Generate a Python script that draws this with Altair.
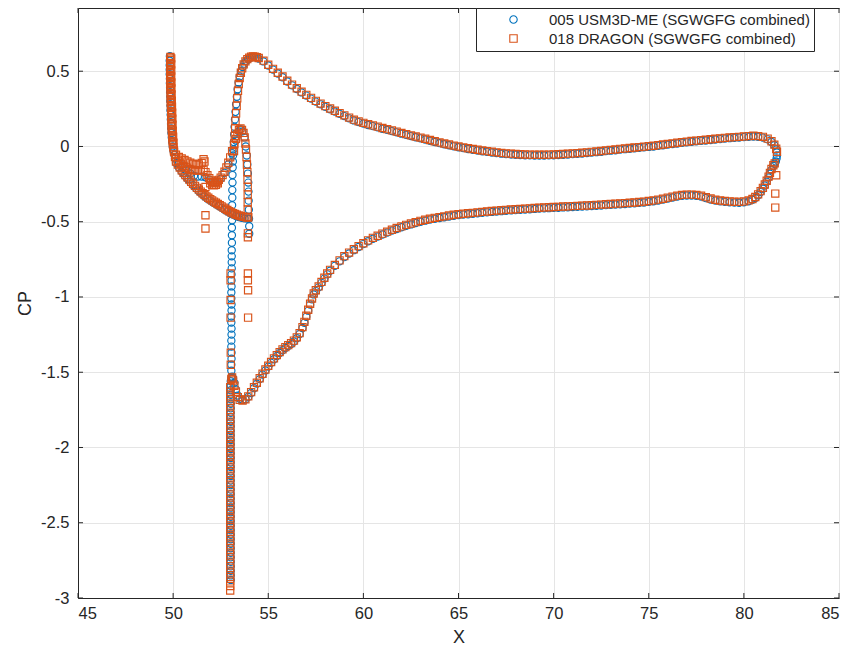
import altair as alt
import pandas as pd

S1 = "005 USM3D-ME (SGWGFG combined)"
S2 = "018 DRAGON (SGWGFG combined)"

X_TICKS = [45, 50, 55, 60, 65, 70, 75, 80, 85]
Y_TICKS = [-3, -2.5, -2, -1.5, -1, -0.5, 0, 0.5]

# ---- main element, upper surface (shared x grid) ----
UPPER_X = [
    54.5, 54.75, 55.0, 55.25, 55.5, 55.75, 56.0, 56.25, 56.5, 56.75,
    57.0, 57.25, 57.5, 57.75, 58.0, 58.25, 58.5, 58.75, 59.0, 59.25,
    59.5, 59.75, 60.0, 60.25, 60.5, 60.75, 61.0, 61.25, 61.5, 61.75,
    62.0, 62.25, 62.5, 62.75, 63.0, 63.25, 63.5, 63.75, 64.0, 64.25,
    64.5, 64.75, 65.0, 65.25, 65.5, 65.75, 66.0, 66.25, 66.5, 66.75,
    67.0, 67.25, 67.5, 67.75, 68.0, 68.25, 68.5, 68.75, 69.0, 69.25,
    69.5, 69.75, 70.0, 70.25, 70.5, 70.75, 71.0, 71.25, 71.5, 71.75,
    72.0, 72.25, 72.5, 72.75, 73.0, 73.25, 73.5, 73.75, 74.0, 74.25,
    74.5, 74.75, 75.0, 75.25, 75.5, 75.75, 76.0, 76.25, 76.5, 76.75,
    77.0, 77.25, 77.5, 77.75, 78.0, 78.25, 78.5, 78.75, 79.0, 79.25,
    79.5, 79.75, 80.0, 80.25, 80.5, 80.75, 81.0, 81.25, 81.45, 81.6,
]
DRG_UPPER_Y = [
    0.588, 0.570, 0.543, 0.516, 0.490, 0.465, 0.437, 0.411, 0.387, 0.364,
    0.343, 0.323, 0.303, 0.285, 0.268, 0.252, 0.237, 0.222, 0.207, 0.192,
    0.178, 0.167, 0.157, 0.148, 0.140, 0.132, 0.123, 0.115, 0.107, 0.099,
    0.090, 0.082, 0.074, 0.066, 0.059, 0.051, 0.043, 0.035, 0.027, 0.020,
    0.013, 0.006, 0.000, -0.006, -0.012, -0.017, -0.022, -0.027, -0.031, -0.035,
    -0.039, -0.043, -0.046, -0.048, -0.050, -0.052, -0.053, -0.054, -0.055, -0.055,
    -0.055, -0.054, -0.053, -0.052, -0.050, -0.048, -0.046, -0.044, -0.042, -0.039,
    -0.036, -0.033, -0.030, -0.026, -0.023, -0.020, -0.016, -0.013, -0.010, -0.007,
    -0.004, -0.001, 0.002, 0.005, 0.009, 0.013, 0.017, 0.021, 0.025, 0.029,
    0.032, 0.036, 0.039, 0.042, 0.045, 0.048, 0.051, 0.054, 0.057, 0.060,
    0.062, 0.064, 0.067, 0.069, 0.071, 0.069, 0.064, 0.052, 0.035, 0.012,
]
USM_UPPER_Y = [
    0.584, 0.565, 0.538, 0.511, 0.485, 0.460, 0.432, 0.406, 0.382, 0.359,
    0.338, 0.318, 0.298, 0.280, 0.263, 0.247, 0.232, 0.217, 0.202, 0.187,
    0.173, 0.162, 0.152, 0.143, 0.135, 0.127, 0.118, 0.110, 0.102, 0.094,
    0.085, 0.077, 0.069, 0.061, 0.054, 0.046, 0.038, 0.030, 0.022, 0.015,
    0.008, 0.001, -0.005, -0.011, -0.017, -0.022, -0.027, -0.032, -0.036, -0.040,
    -0.044, -0.048, -0.051, -0.053, -0.055, -0.057, -0.058, -0.059, -0.060, -0.060,
    -0.060, -0.059, -0.058, -0.057, -0.055, -0.053, -0.051, -0.049, -0.047, -0.044,
    -0.041, -0.038, -0.035, -0.031, -0.028, -0.025, -0.021, -0.018, -0.015, -0.012,
    -0.009, -0.006, -0.003, 0.000, 0.004, 0.008, 0.012, 0.016, 0.020, 0.024,
    0.027, 0.031, 0.034, 0.037, 0.040, 0.043, 0.046, 0.049, 0.052, 0.055,
    0.057, 0.059, 0.062, 0.064, 0.066, 0.064, 0.059, 0.047, 0.030, 0.008,
]

# ---- main element, lower surface (shared x grid, trailing edge -> forward) ----
LOWER_X = [
    81.55, 81.45, 81.37, 81.3, 81.2, 81.1, 81.0, 80.88, 80.75, 80.6,
    80.45, 80.25, 80.0, 79.75, 79.5, 79.25, 79.0, 78.75, 78.5, 78.25,
    78.0, 77.75, 77.5, 77.25, 77.0, 76.75, 76.5, 76.25, 76.0, 75.75,
    75.5, 75.25, 75.0, 74.75, 74.5, 74.25, 74.0, 73.75, 73.5, 73.25,
    73.0, 72.75, 72.5, 72.25, 72.0, 71.75, 71.5, 71.25, 71.0, 70.75,
    70.5, 70.25, 70.0, 69.75, 69.5, 69.25, 69.0, 68.75, 68.5, 68.25,
    68.0, 67.75, 67.5, 67.25, 67.0, 66.75, 66.5, 66.25, 66.0, 65.75,
    65.5, 65.25, 65.0, 64.75, 64.5, 64.25, 64.0, 63.75, 63.5, 63.25,
    63.0, 62.75, 62.5, 62.25, 62.0, 61.75, 61.5, 61.25, 61.0, 60.75,
    60.5, 60.25, 60.0, 59.75, 59.5, 59.25, 59.0, 58.75, 58.5, 58.25,
    58.1, 57.95, 57.8, 57.65, 57.5, 57.39, 57.3, 57.2, 57.1, 57.0,
    56.9, 56.8, 56.65, 56.5, 56.35, 56.2, 56.05, 55.9, 55.75, 55.6,
    55.45, 55.3, 55.15, 55.0, 54.85, 54.7, 54.55, 54.4, 54.25, 54.1,
    53.95, 53.8, 53.65, 53.5, 53.4, 53.3, 53.22, 53.15, 53.1, 53.06,
]
DRG_LOWER_Y = [
    -0.125, -0.150, -0.175, -0.200, -0.228, -0.253, -0.275, -0.297, -0.318, -0.336,
    -0.349, -0.358, -0.365, -0.368, -0.367, -0.365, -0.362, -0.359, -0.354, -0.346,
    -0.337, -0.327, -0.322, -0.320, -0.320, -0.322, -0.327, -0.333, -0.340, -0.347,
    -0.353, -0.358, -0.362, -0.366, -0.369, -0.372, -0.374, -0.376, -0.378, -0.380,
    -0.382, -0.384, -0.386, -0.388, -0.390, -0.392, -0.393, -0.395, -0.396, -0.398,
    -0.399, -0.401, -0.402, -0.404, -0.405, -0.407, -0.409, -0.411, -0.413, -0.415,
    -0.417, -0.419, -0.421, -0.424, -0.426, -0.429, -0.432, -0.435, -0.438, -0.441,
    -0.444, -0.447, -0.450, -0.454, -0.459, -0.464, -0.469, -0.474, -0.480, -0.487,
    -0.494, -0.503, -0.512, -0.521, -0.531, -0.542, -0.553, -0.566, -0.579, -0.593,
    -0.607, -0.624, -0.643, -0.662, -0.683, -0.705, -0.729, -0.757, -0.787, -0.820,
    -0.844, -0.872, -0.900, -0.930, -0.955, -0.977, -1.010, -1.045, -1.085, -1.125,
    -1.165, -1.200, -1.240, -1.268, -1.290, -1.307, -1.320, -1.333, -1.348, -1.366,
    -1.386, -1.408, -1.432, -1.457, -1.482, -1.510, -1.540, -1.570, -1.600, -1.632,
    -1.660, -1.680, -1.688, -1.684, -1.665, -1.630, -1.590, -1.555, -1.535, -1.545,
]
USM_LOWER_Y = [
    -0.130, -0.156, -0.181, -0.206, -0.234, -0.259, -0.281, -0.303, -0.324, -0.342,
    -0.355, -0.364, -0.371, -0.374, -0.373, -0.371, -0.368, -0.365, -0.360, -0.352,
    -0.343, -0.333, -0.328, -0.326, -0.326, -0.328, -0.333, -0.339, -0.346, -0.353,
    -0.359, -0.364, -0.368, -0.372, -0.375, -0.378, -0.380, -0.382, -0.384, -0.386,
    -0.388, -0.390, -0.392, -0.394, -0.396, -0.398, -0.399, -0.401, -0.402, -0.404,
    -0.405, -0.407, -0.408, -0.410, -0.411, -0.413, -0.415, -0.417, -0.419, -0.421,
    -0.423, -0.425, -0.427, -0.430, -0.432, -0.435, -0.438, -0.441, -0.444, -0.447,
    -0.450, -0.453, -0.456, -0.460, -0.465, -0.470, -0.475, -0.480, -0.486, -0.493,
    -0.500, -0.509, -0.518, -0.527, -0.537, -0.548, -0.559, -0.572, -0.585, -0.599,
    -0.613, -0.630, -0.649, -0.668, -0.689, -0.711, -0.735, -0.763, -0.793, -0.826,
    -0.850, -0.878, -0.906, -0.936, -0.961, -0.983, -1.016, -1.051, -1.091, -1.131,
    -1.171, -1.206, -1.246, -1.274, -1.296, -1.313, -1.326, -1.339, -1.354, -1.372,
    -1.392, -1.414, -1.438, -1.463, -1.488, -1.516, -1.546, -1.576, -1.606, -1.638,
    -1.664, -1.680, -1.684, -1.676, -1.655, -1.615, -1.570, -1.540, -1.530, -1.540,
]

# ---- rise from the near-vertical column up to the suction peak ----
DRG_RISE = [(53.2, -0.03), (53.22, 0.02), (53.24, 0.07), (53.26, 0.12), (53.28, 0.17),
            (53.31, 0.22), (53.34, 0.27), (53.37, 0.32), (53.41, 0.37), (53.45, 0.415),
            (53.5, 0.455), (53.56, 0.49), (53.63, 0.52), (53.71, 0.545), (53.8, 0.565),
            (53.9, 0.58), (54.0, 0.59), (54.1, 0.596), (54.2, 0.598), (54.3, 0.596),
            (54.4, 0.593)]
USM_RISE = [(53.15, -0.06), (53.17, -0.02), (53.19, 0.03), (53.21, 0.08), (53.23, 0.13),
            (53.25, 0.18), (53.28, 0.23), (53.31, 0.28), (53.35, 0.33), (53.39, 0.38),
            (53.44, 0.425), (53.5, 0.465), (53.57, 0.5), (53.65, 0.528), (53.74, 0.55),
            (53.84, 0.568), (53.94, 0.58), (54.04, 0.589), (54.14, 0.594), (54.24, 0.595),
            (54.34, 0.592), (54.44, 0.588)]

# ---- trailing edge ----
DRG_TE = [(81.7, -0.015), (81.74, -0.035), (81.62, -0.112)]
USM_TE = [(81.7, -0.02), (81.73, -0.04), (81.74, -0.06), (81.72, -0.08),
          (81.68, -0.1), (81.62, -0.115)]

# ---- dense near-vertical column at x ~ 53 ----
DRG_COL_X = 53.0
DRG_COL_Y = [-1.60, -1.63, -1.66, -1.69, -1.72, -1.75, -1.78, -1.81, -1.84, -1.87,
             -1.90, -1.93, -1.96, -1.99, -2.02, -2.05, -2.08, -2.11, -2.14, -2.17,
             -2.20, -2.23, -2.26, -2.29, -2.32, -2.35, -2.38, -2.41, -2.44, -2.47,
             -2.50, -2.53, -2.56, -2.59, -2.62, -2.65, -2.68, -2.71, -2.74, -2.77,
             -2.80, -2.83, -2.86, -2.89, -2.92, -2.95]
USM_COL_X = 53.03
USM_COL_Y = [-1.56, -1.59, -1.62, -1.65, -1.68, -1.71, -1.74, -1.77, -1.80, -1.83,
             -1.86, -1.89, -1.92, -1.95, -1.98, -2.01, -2.04, -2.07, -2.10, -2.13,
             -2.16, -2.19, -2.22, -2.25, -2.28, -2.31, -2.34, -2.37, -2.40, -2.43,
             -2.46, -2.49, -2.52, -2.55, -2.58, -2.61, -2.64, -2.67, -2.70, -2.73,
             -2.76, -2.79, -2.82, -2.85, -2.88]

# ---- sparse part of the column, above the bump ----
USM_SPARSE = [(53.06, -1.49), (53.06, -1.45), (53.07, -1.41), (53.07, -1.37), (53.06, -1.33),
              (53.06, -1.29), (53.07, -1.25), (53.07, -1.21), (53.06, -1.17), (53.06, -1.13),
              (53.07, -1.09), (53.07, -1.05), (53.06, -1.01), (53.06, -0.97), (53.07, -0.93),
              (53.07, -0.89), (53.07, -0.85), (53.08, -0.81), (53.08, -0.77), (53.08, -0.73),
              (53.08, -0.69), (53.09, -0.64), (53.09, -0.59), (53.09, -0.54), (53.1, -0.49),
              (53.1, -0.44), (53.1, -0.39), (53.11, -0.34), (53.11, -0.29), (53.12, -0.24),
              (53.12, -0.19), (53.13, -0.14), (53.14, -0.1)]
DRG_SPARSE = [(53.02, -0.844), (53.02, -0.889), (53.02, -1.02), (53.02, -1.137),
              (53.03, -1.37), (53.03, -1.45)]

# ---- forward element: leading column at x ~ 49.9 ----
DRG_LE = [(49.86, 0.595), (49.85, 0.575), (49.85, 0.555), (49.85, 0.535), (49.85, 0.515),
          (49.85, 0.495), (49.85, 0.475), (49.86, 0.455), (49.86, 0.435), (49.86, 0.415),
          (49.87, 0.395), (49.87, 0.375), (49.87, 0.355), (49.88, 0.335), (49.88, 0.315),
          (49.88, 0.295), (49.89, 0.275), (49.89, 0.255), (49.9, 0.235), (49.9, 0.215),
          (49.91, 0.195), (49.91, 0.175), (49.92, 0.155), (49.92, 0.135), (49.93, 0.115),
          (49.94, 0.095), (49.95, 0.075), (49.96, 0.055), (49.97, 0.035), (49.99, 0.015),
          (50.01, -0.005), (50.04, -0.025),
          (49.9, 0.585), (49.9, 0.545), (49.9, 0.505), (49.9, 0.465), (49.91, 0.425),
          (49.91, 0.385), (49.92, 0.345), (49.93, 0.305), (49.94, 0.265), (49.95, 0.225),
          (49.96, 0.185), (49.97, 0.145), (49.98, 0.105), (50.0, 0.065), (50.02, 0.025)]
USM_LE = [(49.83, 0.6), (49.82, 0.57), (49.82, 0.54), (49.82, 0.51), (49.82, 0.48),
          (49.83, 0.45), (49.83, 0.42), (49.84, 0.39), (49.84, 0.36), (49.85, 0.33),
          (49.85, 0.3), (49.86, 0.27), (49.86, 0.24), (49.87, 0.21), (49.88, 0.18),
          (49.89, 0.15), (49.9, 0.12), (49.91, 0.09), (49.93, 0.06), (49.95, 0.03),
          (49.98, 0.0), (50.02, -0.03), (50.06, -0.055)]

# ---- forward element: upper branch with hump ----
DRG_HUMP = [(50.05, -0.035), (50.15, -0.055), (50.3, -0.07), (50.45, -0.08), (50.6, -0.09),
            (50.75, -0.1), (50.9, -0.108), (51.05, -0.115), (51.2, -0.12), (51.35, -0.12),
            (51.5, -0.11), (51.6, -0.085), (51.65, -0.1),
            (50.1, -0.07), (50.25, -0.095), (50.4, -0.115), (50.55, -0.13), (50.7, -0.14),
            (50.85, -0.15), (51.0, -0.155), (51.15, -0.16), (51.3, -0.16), (51.45, -0.158),
            (51.6, -0.155), (51.7, -0.17), (51.8, -0.19), (51.9, -0.21), (52.0, -0.225),
            (52.1, -0.235), (52.2, -0.238), (52.3, -0.233), (52.4, -0.222), (52.5, -0.207),
            (52.6, -0.19), (52.7, -0.168), (52.8, -0.14), (52.9, -0.108), (53.0, -0.072),
            (53.1, -0.032), (53.2, 0.01), (53.3, 0.05), (53.38, 0.085), (53.46, 0.11),
            (53.54, 0.12), (53.62, 0.11), (53.7, 0.09), (53.76, 0.06), (53.8, 0.02),
            (53.83, -0.02), (53.86, -0.07), (53.88, -0.12), (53.9, -0.17), (53.91, -0.22),
            (53.92, -0.27), (53.92, -0.32), (53.92, -0.37), (53.92, -0.42), (53.93, -0.47),
            (51.95, -0.245), (52.05, -0.255), (52.15, -0.258), (52.25, -0.255), (52.35, -0.245)]
USM_HUMP = [(50.1, -0.08), (50.3, -0.11), (50.5, -0.14), (50.7, -0.16), (50.9, -0.18),
            (51.1, -0.195), (51.3, -0.2), (51.5, -0.2), (51.7, -0.205), (51.9, -0.22),
            (52.1, -0.24), (52.3, -0.24), (52.5, -0.215), (52.7, -0.175), (52.9, -0.12),
            (53.1, -0.045), (53.3, 0.04), (53.45, 0.1), (53.55, 0.115), (53.65, 0.1),
            (53.75, 0.06), (53.82, 0.0), (53.87, -0.06), (53.9, -0.12), (53.93, -0.18),
            (53.95, -0.24), (53.96, -0.3), (53.97, -0.36), (53.98, -0.42), (53.99, -0.48),
            (54.0, -0.53), (54.0, -0.58)]

# ---- forward element: lower diagonal branch ----
DRG_DIAG = [(50.15, -0.1), (50.25, -0.12), (50.35, -0.14), (50.45, -0.158), (50.55, -0.175),
            (50.65, -0.19), (50.75, -0.205), (50.85, -0.22), (50.95, -0.235), (51.05, -0.248),
            (51.15, -0.262), (51.25, -0.275), (51.35, -0.287), (51.45, -0.3), (51.55, -0.311),
            (51.65, -0.322), (51.75, -0.332), (51.85, -0.341), (51.95, -0.35), (52.05, -0.358),
            (52.15, -0.366), (52.25, -0.374), (52.35, -0.382), (52.45, -0.39), (52.55, -0.398),
            (52.65, -0.406), (52.75, -0.414), (52.85, -0.422), (52.95, -0.43), (53.05, -0.437),
            (53.15, -0.443), (53.25, -0.449), (53.35, -0.454), (53.45, -0.459), (53.55, -0.463),
            (53.65, -0.466), (53.75, -0.468), (53.85, -0.47), (53.95, -0.47)]
USM_DIAG = [(50.15, -0.11), (50.3, -0.14), (50.45, -0.168), (50.6, -0.193), (50.75, -0.215),
            (50.9, -0.238), (51.05, -0.258), (51.2, -0.278), (51.35, -0.297), (51.5, -0.315),
            (51.65, -0.332), (51.8, -0.347), (51.95, -0.36), (52.1, -0.372), (52.25, -0.384),
            (52.4, -0.396), (52.55, -0.408), (52.7, -0.42), (52.85, -0.432), (53.0, -0.443),
            (53.15, -0.453), (53.3, -0.462), (53.45, -0.469), (53.6, -0.474), (53.75, -0.478),
            (53.9, -0.479)]

# ---- isolated DRAGON points ----
DRG_OUTLIERS = [(51.7, -0.269), (51.7, -0.457), (51.7, -0.545),
                (53.93, -0.577), (53.93, -0.603), (53.93, -0.844), (53.93, -0.889),
                (53.94, -0.955), (53.94, -1.137),
                (81.7, -0.191), (81.65, -0.313), (81.65, -0.406)]

assert len(UPPER_X) == len(DRG_UPPER_Y) == len(USM_UPPER_Y)
assert len(LOWER_X) == len(DRG_LOWER_Y) == len(USM_LOWER_Y)

rows = []


def add(series, pairs):
    for x, y in pairs:
        rows.append({"X": x, "CP": y, "series": series})


# USM3D first (drawn underneath), DRAGON on top
add(S1, USM_LE)
add(S1, USM_HUMP)
add(S1, USM_DIAG)
add(S1, zip([USM_COL_X] * len(USM_COL_Y), USM_COL_Y))
add(S1, USM_SPARSE)
add(S1, USM_RISE)
add(S1, zip(UPPER_X, USM_UPPER_Y))
add(S1, USM_TE)
add(S1, zip(LOWER_X, USM_LOWER_Y))

add(S2, DRG_LE)
add(S2, DRG_HUMP)
add(S2, DRG_DIAG)
add(S2, zip([DRG_COL_X] * len(DRG_COL_Y), DRG_COL_Y))
add(S2, DRG_SPARSE)
add(S2, DRG_RISE)
add(S2, zip(UPPER_X, DRG_UPPER_Y))
add(S2, DRG_TE)
add(S2, zip(LOWER_X, DRG_LOWER_Y))
add(S2, DRG_OUTLIERS)

df = pd.DataFrame(rows)

W, H = 761, 590
FONT = "Liberation Sans"
INK = "#262626"

xscale = alt.Scale(domain=[45, 85], nice=False, zero=False)
yscale = alt.Scale(domain=[-3, 0.92], nice=False, zero=False)
xaxis = alt.Axis(values=X_TICKS, title="X", labelPadding=7, titlePadding=7)
yaxis = alt.Axis(values=Y_TICKS, title="CP", labelPadding=9, titlePadding=6,
                 labelExpr="datum.value + ''")

legend = alt.Legend(
    title=None, orient="none", legendX=398, legendY=0,
    fillColor="white", strokeColor=INK, padding=4,
    symbolOffset=26, labelOffset=28, rowPadding=3,
    labelFont=FONT, labelFontSize=15, labelColor=INK, labelLimit=500,
    symbolSize=55, symbolStrokeWidth=1.1,
)

points = alt.Chart(df).mark_point(filled=False, opacity=1, strokeWidth=1.15, size=52).encode(
    x=alt.X("X:Q", scale=xscale, axis=xaxis),
    y=alt.Y("CP:Q", scale=yscale, axis=yaxis),
    color=alt.Color("series:N", scale=alt.Scale(domain=[S1, S2], range=["#0072BD", "#D95319"]),
                    legend=legend),
    shape=alt.Shape("series:N", scale=alt.Scale(domain=[S1, S2], range=["circle", "square"]),
                    legend=legend),
)

xt = pd.DataFrame({"X": X_TICKS})
yt = pd.DataFrame({"CP": Y_TICKS})
tick_len = 5
bottom_ticks = alt.Chart(xt).mark_rule(color=INK, strokeWidth=1).encode(
    x=alt.X("X:Q", scale=xscale, axis=xaxis), y=alt.value(H), y2=alt.value(H - tick_len))
top_ticks = alt.Chart(xt).mark_rule(color=INK, strokeWidth=1).encode(
    x=alt.X("X:Q", scale=xscale, axis=xaxis), y=alt.value(0), y2=alt.value(tick_len))
left_ticks = alt.Chart(yt).mark_rule(color=INK, strokeWidth=1).encode(
    y=alt.Y("CP:Q", scale=yscale, axis=yaxis), x=alt.value(0), x2=alt.value(tick_len))
right_ticks = alt.Chart(yt).mark_rule(color=INK, strokeWidth=1).encode(
    y=alt.Y("CP:Q", scale=yscale, axis=yaxis), x=alt.value(W), x2=alt.value(W - tick_len))

chart = alt.layer(points, bottom_ticks, top_ticks, left_ticks, right_ticks).properties(
    width=W, height=H,
    autosize=alt.AutoSizeParams(type="none"),
    padding={"left": 70, "right": 12, "top": 0, "bottom": 55},
    background="white",
).configure_axis(
    labelFont=FONT, labelFontSize=16.5, labelColor=INK,
    titleFont=FONT, titleFontSize=18, titleFontWeight="normal", titleColor=INK,
    domainColor=INK, domainWidth=1, gridColor="#e5e5e5", gridWidth=1, ticks=False,
).configure_view(stroke=INK, strokeWidth=1)

chart.save("out.html", embed_options={"renderer": "svg", "actions": False})
